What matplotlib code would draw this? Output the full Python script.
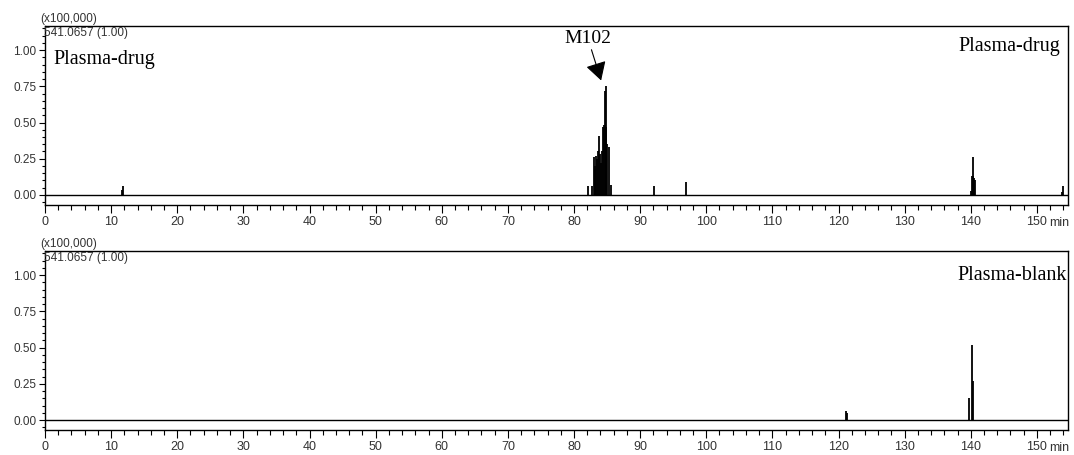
import matplotlib.pyplot as plt
from matplotlib.ticker import MultipleLocator

# stick peaks (time in min, intensity x100,000)
drug_times = [11.6, 11.85,
              82.1, 82.7, 83.0, 83.1, 83.2, 83.35, 83.5, 83.65, 83.8, 83.95, 84.1,
              84.3, 84.45, 84.6, 84.7, 84.8, 84.9, 85.0, 85.3, 85.6,
              92.1, 97.0,
              140.0, 140.15, 140.3, 140.4, 140.5, 140.6,
              153.8, 154.0]
drug_heights = [0.035, 0.06,
                0.06, 0.06, 0.26, 0.18, 0.20, 0.27, 0.25, 0.30, 0.41, 0.28, 0.22,
                0.30, 0.47, 0.48, 0.72, 0.75, 0.47, 0.35, 0.33, 0.07,
                0.06, 0.09,
                0.03, 0.13, 0.13, 0.26, 0.12, 0.10,
                0.02, 0.065]

blank_times = [121.1, 121.3, 139.8, 140.15, 140.3]
blank_heights = [0.06, 0.045, 0.15, 0.52, 0.27]

x_ticks = list(range(0, 160, 10))
x_labels = [str(t) for t in x_ticks]
y_ticks = [0.0, 0.25, 0.5, 0.75, 1.0]
y_labels = ['0.00', '0.25', '0.50', '0.75', '1.00']

mass_label = '541.0657 (1.00)'
scale_label = '(x100,000)'

serif = ['Liberation Serif', 'DejaVu Serif']
sans = ['Liberation Sans', 'DejaVu Sans']

fig = plt.figure(figsize=(10.74, 4.55), dpi=100)

panels = [
    (0.5495, drug_times, drug_heights, ['Plasma-drug', 'Plasma-drug']),
    (0.0549, blank_times, blank_heights, ['Plasma-blank']),
]

for bottom, times, heights, names in panels:
    ax = fig.add_axes([0.0419, bottom, 0.9525, 0.3934])
    ax.set_xlim(0, 154.7)
    ax.set_ylim(-0.069, 1.166)

    # baseline and the peaks
    ax.axhline(0, color='black', lw=1.0)
    ax.vlines(times, 0, heights, color='black', lw=1.3)

    ax.set_xticks(x_ticks)
    ax.set_xticklabels(x_labels)
    ax.xaxis.set_minor_locator(MultipleLocator(2))
    ax.set_yticks(y_ticks)
    ax.set_yticklabels(y_labels)
    ax.yaxis.set_minor_locator(MultipleLocator(0.05))
    ax.tick_params(axis='x', which='major', length=6, width=0.8, pad=2,
                   labelsize=9, labelcolor='#333333')
    ax.tick_params(axis='x', which='minor', length=3.6, width=0.8)
    ax.tick_params(axis='y', which='major', length=4.5, width=0.8, pad=1.5,
                   labelsize=8.5, labelcolor='#333333')
    ax.tick_params(axis='y', which='minor', length=2.5, width=0.8)
    for lab in ax.get_xticklabels() + ax.get_yticklabels():
        lab.set_family(sans)
    for sp in ax.spines.values():
        sp.set_linewidth(1.0)

    ax.annotate('min', xy=(151.8, 0), xycoords=('data', 'axes fraction'),
                xytext=(0, -8.3), textcoords='offset points',
                ha='left', va='top', fontsize=9, color='#333333', family=sans)

    ax.text(0.023, 1.04, scale_label, transform=ax.transAxes, ha='center',
            va='center', fontsize=8.5, color='#333333', family=sans)
    ax.text(-0.001, 0.995, mass_label, transform=ax.transAxes, ha='left',
            va='top', fontsize=8.5, color='#333333', family=sans)

    if len(names) == 2:
        ax.text(0.008, 0.81, names[0], transform=ax.transAxes, ha='left',
                va='center', fontsize=14.5, family=serif)
        ax.text(0.992, 0.883, names[1], transform=ax.transAxes, ha='right',
                va='center', fontsize=14.5, family=serif)
        # label with arrow pointing at the main peak
        ax.annotate('M102', xy=(84.1, 0.79), xytext=(82.1, 1.08),
                    ha='center', va='center', fontsize=14, family=serif,
                    arrowprops=dict(arrowstyle='-|>,head_length=0.7,head_width=0.4',
                                    mutation_scale=16, color='black', lw=0.8,
                                    shrinkA=0, shrinkB=0))
    else:
        ax.text(0.999, 0.866, names[0], transform=ax.transAxes, ha='right',
                va='center', fontsize=14.5, family=serif)

plt.savefig('out.png', dpi=100)
